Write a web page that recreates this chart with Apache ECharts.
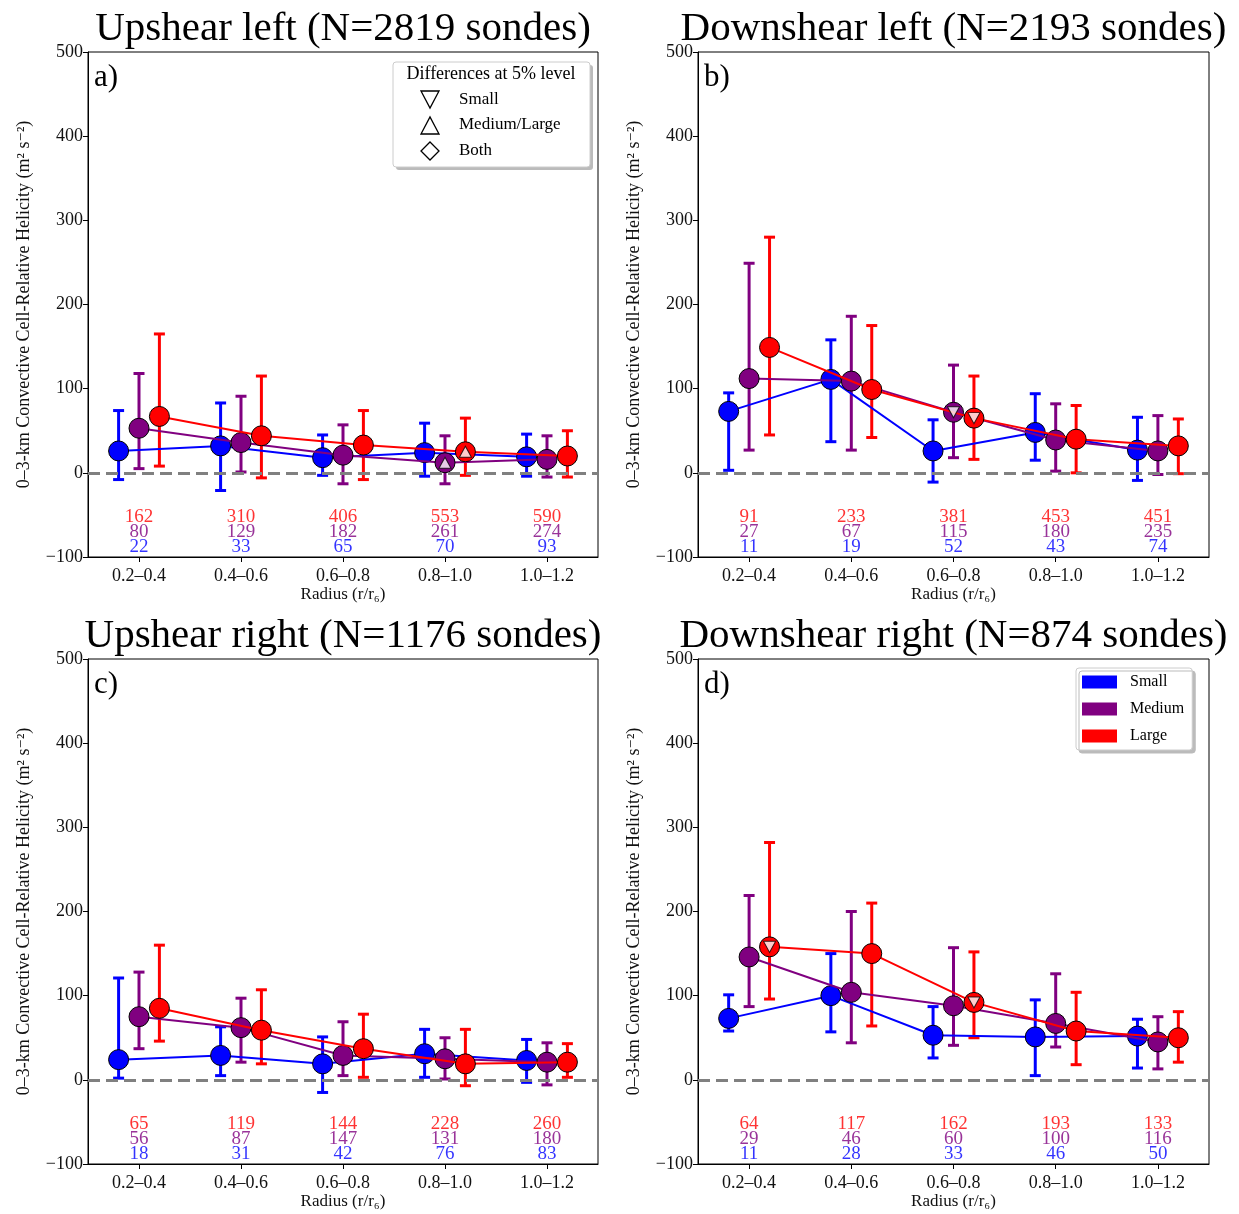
<!DOCTYPE html>
<html>
<head>
<meta charset="utf-8">
<script src="https://cdn.jsdelivr.net/npm/echarts@6/dist/echarts.min.js"></script>
<style>
  html, body { margin: 0; padding: 0; background: #fff; }
  #chart { width: 1239px; height: 1214px; }
</style>
</head>
<body>
<div id="chart"></div>
<script>
// radius bins (x categories)
const categories = ['0.2–0.4', '0.4–0.6', '0.6–0.8', '0.8–1.0', '1.0–1.2'];
const sizeNames = ['Small', 'Medium', 'Large'];

// each panel: rows = Small, Medium, Large
// Upshear left
const ulMean = [[26, 32, 18, 24, 19], [53, 36, 21, 12, 16], [67, 44, 33, 25, 20]];
const ulLow = [[-8, -21, -3, -4, -4], [5, 1, -13, -13, -5], [8, -6, -8, -3, -5]];
const ulHigh = [[74, 83, 45, 59, 46], [118, 91, 57, 44, 44], [165, 115, 74, 65, 50]];
const ulCount = [[22, 33, 65, 70, 93], [80, 129, 182, 261, 274], [162, 310, 406, 553, 590]];
// Downshear left
const dlMean = [[73, 111, 26, 48, 27], [112, 109, 72, 39, 26], [149, 99, 65, 40, 32]];
const dlLow = [[3, 37, -11, 15, -9], [27, 27, 18, 2, -2], [45, 42, 16, 0, -1]];
const dlHigh = [[95, 158, 63, 94, 66], [249, 186, 128, 82, 68], [280, 175, 115, 80, 64]];
const dlCount = [[11, 19, 52, 43, 74], [27, 67, 115, 180, 235], [91, 233, 381, 453, 451]];
// Upshear right
const urMean = [[24, 29, 19, 31, 23], [75, 62, 29, 25, 21], [85, 59, 37, 19, 21]];
const urLow = [[2, 5, -15, 3, -3], [37, 21, 5, 1, -6], [46, 19, 3, -7, 3]];
const urHigh = [[121, 63, 51, 60, 48], [128, 97, 69, 50, 44], [160, 107, 78, 60, 43]];
const urCount = [[18, 31, 42, 76, 83], [56, 87, 147, 131, 180], [65, 119, 144, 228, 260]];
// Downshear right
const drMean = [[73, 100, 53, 51, 52], [146, 104, 88, 67, 45], [158, 150, 92, 58, 50]];
const drLow = [[58, 57, 26, 5, 14], [87, 44, 41, 39, 13], [96, 64, 50, 18, 21]];
const drHigh = [[101, 150, 87, 95, 72], [219, 200, 157, 126, 75], [282, 210, 152, 104, 81]];
const drCount = [[11, 28, 33, 46, 50], [29, 46, 60, 100, 116], [64, 117, 162, 193, 133]];

// significance markers: [size index, category index, 'up' | 'down']
const ulSig = [[1, 3, 'up'], [2, 3, 'up']];
const dlSig = [[1, 2, 'down'], [2, 2, 'down']];
const urSig = [];
const drSig = [[2, 0, 'down'], [2, 2, 'down']];

const panels = [
  { title: 'Upshear left (N=2819 sondes)', letter: 'a)', mean: ulMean, low: ulLow, high: ulHigh, count: ulCount, sig: ulSig },
  { title: 'Downshear left (N=2193 sondes)', letter: 'b)', mean: dlMean, low: dlLow, high: dlHigh, count: dlCount, sig: dlSig },
  { title: 'Upshear right (N=1176 sondes)', letter: 'c)', mean: urMean, low: urLow, high: urHigh, count: urCount, sig: urSig },
  { title: 'Downshear right (N=874 sondes)', letter: 'd)', mean: drMean, low: drLow, high: drHigh, count: drCount, sig: drSig },
];

const colors = ['#0000ff', '#800080', '#ff0000'];
const offsets = [-0.2, 0, 0.2];
const countRows = [-88, -70, -52]; // blue, purple, red rows under the curves
const FONT = '"Liberation Serif", "DejaVu Serif", serif';

const grids = [
  { left: 88, top: 52, width: 510, height: 505 },
  { left: 698, top: 52, width: 511, height: 505 },
  { left: 88, top: 659, width: 510, height: 505 },
  { left: 698, top: 659, width: 511, height: 505 },
];

const myChart = echarts.init(document.getElementById('chart'));

const xAxes = [];
const yAxes = [];
const series = [];
const graphics = [];

grids.forEach((g, i) => {
  g.show = true;
  g.borderColor = '#000';
  g.borderWidth = 1;
  g.containLabel = false;

  xAxes.push({
    gridIndex: i,
    type: 'value',
    min: 0.5,
    max: 5.5,
    name: 'Radius (r/r₆)',
    nameLocation: 'middle',
    nameGap: 29,
    nameTextStyle: { fontFamily: FONT, fontSize: 17, color: '#111' },
    axisLine: { show: true, onZero: false, lineStyle: { color: '#000', width: 1 } },
    axisTick: { show: true, length: 5, lineStyle: { color: '#000' }, customValues: [1, 2, 3, 4, 5] },
    axisLabel: {
      customValues: [1, 2, 3, 4, 5],
      formatter: v => categories[Math.round(v) - 1] || '',
      fontFamily: FONT, fontSize: 18, color: '#111', margin: 10,
    },
    splitLine: { show: false },
  });

  yAxes.push({
    gridIndex: i,
    type: 'value',
    min: -100,
    max: 500,
    interval: 100,
    name: '0–3-km Convective Cell-Relative Helicity (m² s⁻²)',
    nameLocation: 'middle',
    nameRotate: 90,
    nameGap: 55,
    nameTextStyle: { fontFamily: FONT, fontSize: 18, color: '#111' },
    axisLine: { show: true, onZero: false, lineStyle: { color: '#000', width: 1 } },
    axisTick: { show: true, length: 5, lineStyle: { color: '#000' } },
    axisLabel: {
      formatter: v => String(v).replace('-', '−'),
      fontFamily: FONT, fontSize: 18, color: '#111', margin: 5,
    },
    splitLine: { show: false },
  });

  const p = panels[i];

  // error bars
  for (let s = 0; s < 3; s++) {
    series.push({
      type: 'custom',
      xAxisIndex: i,
      yAxisIndex: i,
      silent: true,
      z: 1,
      itemStyle: { color: colors[s] },
      encode: { x: 0, y: [1, 2] },
      data: p.mean[s].map((m, k) => [k + 1 + offsets[s], p.low[s][k], p.high[s][k]]),
      renderItem: (params, api) => {
        const x = api.value(0);
        const lo = api.coord([x, api.value(1)]);
        const hi = api.coord([x, api.value(2)]);
        const cap = 5.5;
        const style = { stroke: colors[s], lineWidth: 3 };
        return {
          type: 'group',
          children: [
            { type: 'line', shape: { x1: lo[0], y1: lo[1], x2: hi[0], y2: hi[1] }, style },
            { type: 'line', shape: { x1: hi[0] - cap, y1: hi[1], x2: hi[0] + cap, y2: hi[1] }, style },
            { type: 'line', shape: { x1: lo[0] - cap, y1: lo[1], x2: lo[0] + cap, y2: lo[1] }, style },
          ],
        };
      },
    });
  }

  // sample counts under the curves + zero line
  for (let s = 0; s < 3; s++) {
    const cs = {
      type: 'scatter',
      xAxisIndex: i,
      yAxisIndex: i,
      silent: true,
      z: 2,
      symbolSize: 1,
      itemStyle: { color: 'rgba(0,0,0,0)' },
      data: p.count[s].map((c, k) => [k + 1, countRows[s], c]),
      label: {
        show: true,
        position: 'inside',
        formatter: d => d.value[2],
        color: colors[s],
        fontFamily: FONT,
        fontSize: 19,
      },
    };
    if (s === 0) {
      cs.markLine = {
        silent: true,
        symbol: 'none',
        label: { show: false },
        lineStyle: { color: '#808080', width: 3, type: [12, 6], opacity: 1 },
        data: [{ yAxis: 0 }],
      };
    }
    series.push(cs);
  }

  // mean lines with markers
  for (let s = 0; s < 3; s++) {
    series.push({
      name: sizeNames[s],
      type: 'line',
      xAxisIndex: i,
      yAxisIndex: i,
      z: 3 + s,
      symbol: 'circle',
      symbolSize: 20,
      showAllSymbol: true,
      lineStyle: { color: colors[s], width: 2 },
      itemStyle: { color: colors[s], borderColor: '#000', borderWidth: 1 },
      data: p.mean[s].map((m, k) => [k + 1 + offsets[s], m]),
    });
  }

  // significance triangles
  if (p.sig.length) {
    series.push({
      type: 'scatter',
      xAxisIndex: i,
      yAxisIndex: i,
      silent: true,
      z: 10,
      symbol: 'triangle',
      symbolSize: [12, 11],
      itemStyle: { color: '#fff', borderColor: '#000', borderWidth: 1 },
      data: p.sig.map(([s, k, dir]) => ({
        value: [k + 1 + offsets[s], p.mean[s][k]],
        symbolRotate: dir === 'down' ? 180 : 0,
      })),
    });
  }

  // panel title and letter
  graphics.push({
    type: 'text',
    x: g.left + g.width / 2,
    y: g.top - 23,
    style: {
      text: p.title,
      font: '41px ' + FONT,
      fill: '#000',
      textAlign: 'center',
      textVerticalAlign: 'middle',
    },
  });
  graphics.push({
    type: 'text',
    x: g.left + 6,
    y: g.top + 10,
    style: { text: p.letter, font: '31px ' + FONT, fill: '#000' },
  });
});

// significance legend in panel a
const lx = 393, ly = 62;
graphics.push({
  type: 'group',
  x: lx,
  y: ly,
  children: [
    { type: 'rect', shape: { x: 3, y: 3, width: 197, height: 105, r: 3 }, style: { fill: '#bbb' } },
    { type: 'rect', shape: { x: 0, y: 0, width: 197, height: 105, r: 3 }, style: { fill: '#fff', stroke: '#ccc', lineWidth: 1 } },
    { type: 'text', x: 98, y: 12, style: { text: 'Differences at 5% level', font: '18px ' + FONT, fill: '#000', textAlign: 'center', textVerticalAlign: 'middle' } },
    { type: 'polygon', shape: { points: [[28, 29], [46, 29], [37, 46]] }, style: { fill: 'none', stroke: '#000', lineWidth: 1.3 } },
    { type: 'polygon', shape: { points: [[28, 72], [46, 72], [37, 55]] }, style: { fill: 'none', stroke: '#000', lineWidth: 1.3 } },
    { type: 'polygon', shape: { points: [[37, 80], [46, 89], [37, 98], [28, 89]] }, style: { fill: 'none', stroke: '#000', lineWidth: 1.3 } },
    { type: 'text', x: 66, y: 38, style: { text: 'Small', font: '17px ' + FONT, fill: '#000', textVerticalAlign: 'middle' } },
    { type: 'text', x: 66, y: 63, style: { text: 'Medium/Large', font: '17px ' + FONT, fill: '#000', textVerticalAlign: 'middle' } },
    { type: 'text', x: 66, y: 89, style: { text: 'Both', font: '17px ' + FONT, fill: '#000', textVerticalAlign: 'middle' } },
  ],
});

myChart.setOption({
  animation: false,
  backgroundColor: '#fff',
  grid: grids,
  xAxis: xAxes,
  yAxis: yAxes,
  // size legend in panel d
  legend: {
    left: 1076,
    top: 668,
    orient: 'vertical',
    icon: 'rect',
    itemWidth: 35,
    itemHeight: 13,
    itemGap: 11,
    padding: [6, 8, 6, 6],
    selectedMode: false,
    backgroundColor: '#fff',
    borderColor: '#ccc',
    borderWidth: 1,
    borderRadius: 3,
    shadowColor: '#bbb',
    shadowBlur: 0,
    shadowOffsetX: 3,
    shadowOffsetY: 3,
    textStyle: { fontFamily: FONT, fontSize: 16, color: '#000', padding: [0, 0, 0, 8] },
    data: sizeNames.map((n, s) => ({ name: n, itemStyle: { color: colors[s], borderWidth: 0 } })),
  },
  graphic: graphics,
  series: series,
});
</script>
</body>
</html>
